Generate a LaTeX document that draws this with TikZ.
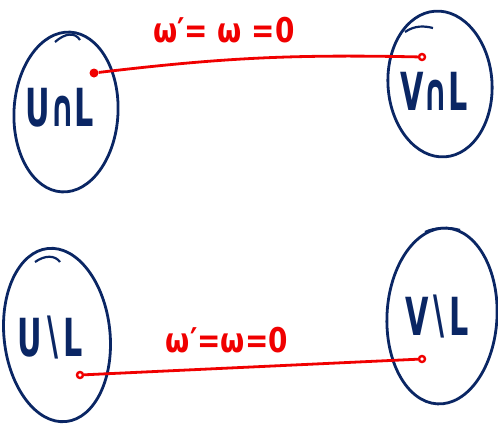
\documentclass[tikz,border=0pt]{standalone}
\usepackage{fontspec}
\setmainfont{DejaVu Sans}
\usetikzlibrary{shapes.geometric}
\definecolor{navy}{RGB}{10,38,100}
\definecolor{ink}{RGB}{240,0,0}
\tikzset{
  blob/.style={ellipse, draw=navy, line width=2.8pt, inner sep=0pt},
  setlabel/.style={text=navy, font=\bfseries\fontsize{42}{50}\selectfont, xscale=0.72, yscale=1.25, inner sep=0pt},
  eqlabel/.style={text=ink, font=\bfseries\fontsize{31}{38}\selectfont, xscale=0.9, yscale=1.1, inner sep=0pt},
  pt/.style={circle, fill=ink, inner sep=0pt, minimum size=9pt},
  ptopen/.style={circle, draw=ink, line width=2.4pt, inner sep=0pt, minimum size=6pt},
  link/.style={draw=ink, line width=2.8pt}
}
\begin{document}
\begin{tikzpicture}[x=1pt,y=-1pt]
\useasboundingbox (0,0) rectangle (498,424);
% top
\node[blob, minimum width=104pt, minimum height=160pt, rotate=-3] (UL) at (66,112) {};
\node[blob, minimum width=104pt, minimum height=146pt, rotate=4] (VL) at (440,84) {};
\draw[navy, line width=2.2pt] (405,32) .. controls (415,25) and (425,26) .. (433,28);
\draw[navy, line width=2.2pt] (55,42) .. controls (65,33) and (75,32) .. (80,40);
\node[setlabel] (ULt) at (60,108) {U∩L};
\node[setlabel] (VLt) at (434,91) {V∩L};
\node[pt] (a) at (94,73) {};
\node[ptopen] (b) at (422,57) {};
\draw[link] (a) to[bend left=4] (b);
\node[eqlabel] (e1) at (224,30) {ω′= ω =0};
% bottom
\node[blob, minimum width=106pt, minimum height=174pt, rotate=6] (UM) at (57,335) {};
\node[blob, minimum width=110pt, minimum height=176pt, rotate=-3] (VM) at (442,316) {};
\draw[navy, line width=2.2pt] (35,262) .. controls (45,255) and (55,255) .. (60,262);
\draw[navy, line width=2.2pt] (425,232) .. controls (435,227) and (450,227) .. (460,230);
\node[setlabel] (UMt) at (50,338) {U∖L};
\node[setlabel] (VMt) at (437,317) {V∖L};
\node[ptopen] (c) at (80,375) {};
\node[ptopen] (d) at (422,359) {};
\draw[link] (c) -- (d);
\node[eqlabel] (e2) at (227,340) {ω′=ω=0};
\end{tikzpicture}
\end{document}
